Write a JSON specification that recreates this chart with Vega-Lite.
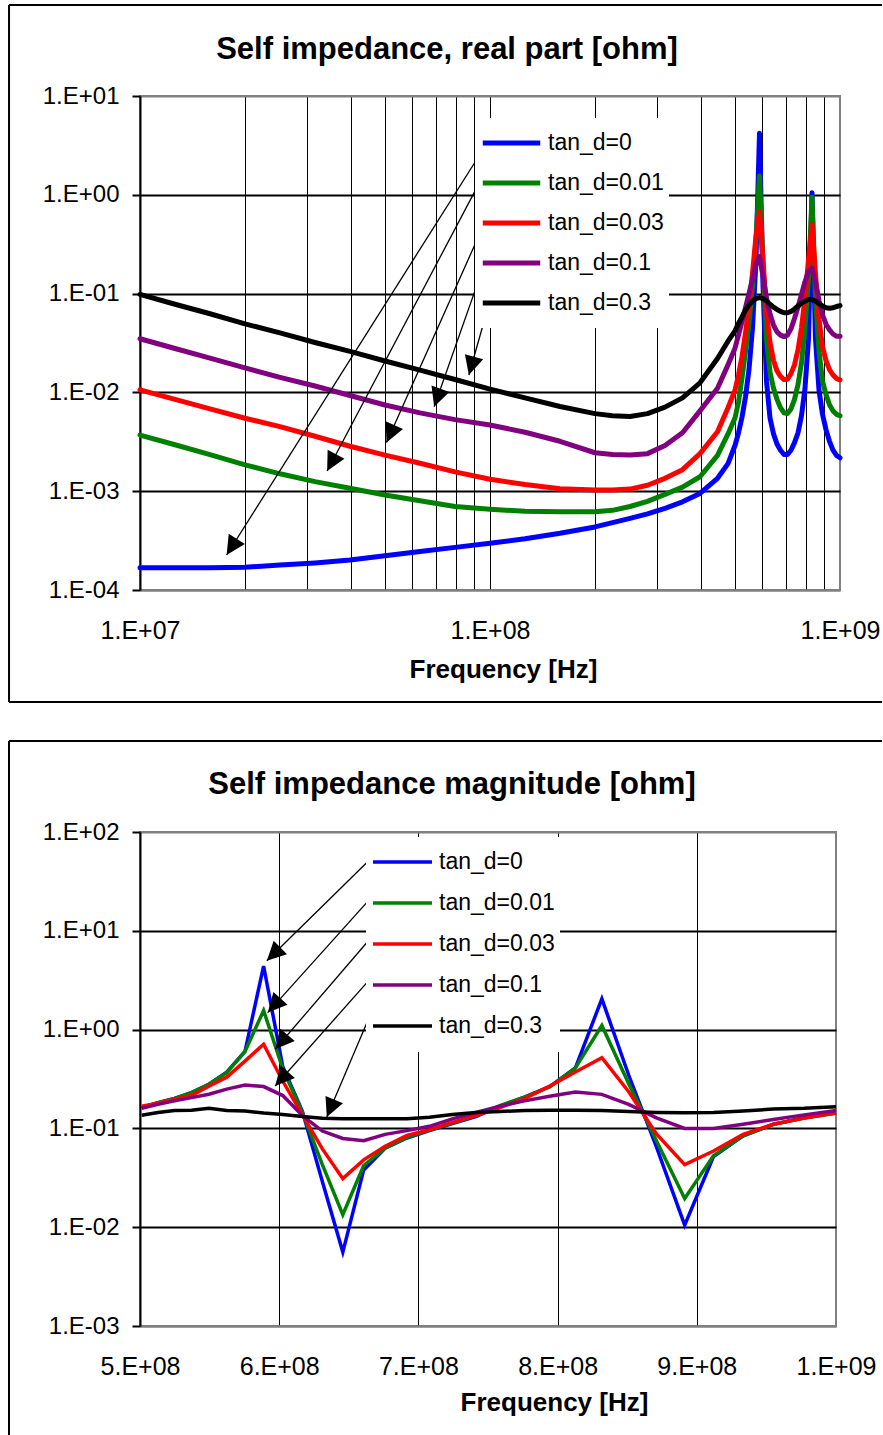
{
"$schema": "https://vega.github.io/schema/vega-lite/v6.json",
"background": "white",
"padding": {"left": 6, "top": 3, "right": 0, "bottom": 0},
"config": {
  "font": "Liberation Sans",
  "view": {"stroke": "#808080", "strokeWidth": 2},
  "axis": {"labelColor": "black", "titleColor": "black", "labelFont": "Liberation Sans", "titleFont": "Liberation Sans"}
},
"resolve": {"scale": {"color": "independent"}, "legend": {"color": "independent"}},
"datasets": {
"top": [
{"s":"tan_d=0","f":1e7,"v":1.68e-4},{"s":"tan_d=0","f":1.259e7,"v":1.68e-4},{"s":"tan_d=0","f":1.585e7,"v":1.68e-4},{"s":"tan_d=0","f":1.995e7,"v":1.70e-4},{"s":"tan_d=0","f":2.512e7,"v":1.79e-4},{"s":"tan_d=0","f":3.162e7,"v":1.88e-4},{"s":"tan_d=0","f":3.981e7,"v":2.01e-4},{"s":"tan_d=0","f":5.012e7,"v":2.22e-4},{"s":"tan_d=0","f":6.31e7,"v":2.45e-4},{"s":"tan_d=0","f":7.943e7,"v":2.70e-4},{"s":"tan_d=0","f":1e8,"v":2.97e-4},{"s":"tan_d=0","f":1.259e8,"v":3.30e-4},{"s":"tan_d=0","f":1.585e8,"v":3.75e-4},{"s":"tan_d=0","f":1.995e8,"v":4.35e-4},{"s":"tan_d=0","f":2.239e8,"v":4.8e-4},{"s":"tan_d=0","f":2.512e8,"v":5.3e-4},{"s":"tan_d=0","f":2.818e8,"v":5.9e-4},{"s":"tan_d=0","f":3.162e8,"v":6.7e-4},{"s":"tan_d=0","f":3.548e8,"v":7.8e-4},{"s":"tan_d=0","f":3.981e8,"v":9.5e-4},{"s":"tan_d=0","f":4.467e8,"v":1.35e-3},{"s":"tan_d=0","f":4.786e8,"v":1.9e-3},
{"s":"tan_d=0","f":5.012e8,"v":2.9e-3},{"s":"tan_d=0","f":5.129e8,"v":3.9e-3},{"s":"tan_d=0","f":5.248e8,"v":5.6e-3},{"s":"tan_d=0","f":5.370e8,"v":9e-3},{"s":"tan_d=0","f":5.495e8,"v":0.017},{"s":"tan_d=0","f":5.623e8,"v":0.045},{"s":"tan_d=0","f":5.754e8,"v":0.22},{"s":"tan_d=0","f":5.888e8,"v":4.2},{"s":"tan_d=0","f":6.026e8,"v":0.12},{"s":"tan_d=0","f":6.166e8,"v":0.013},{"s":"tan_d=0","f":6.310e8,"v":5.5e-3},{"s":"tan_d=0","f":6.457e8,"v":3.8e-3},{"s":"tan_d=0","f":6.607e8,"v":3.0e-3},{"s":"tan_d=0","f":6.761e8,"v":2.6e-3},{"s":"tan_d=0","f":6.918e8,"v":2.35e-3},{"s":"tan_d=0","f":7.079e8,"v":2.35e-3},{"s":"tan_d=0","f":7.244e8,"v":2.6e-3},{"s":"tan_d=0","f":7.413e8,"v":3.1e-3},{"s":"tan_d=0","f":7.586e8,"v":3.9e-3},{"s":"tan_d=0","f":7.762e8,"v":5.8e-3},{"s":"tan_d=0","f":7.943e8,"v":0.011},{"s":"tan_d=0","f":8.128e8,"v":0.035},{"s":"tan_d=0","f":8.318e8,"v":1.05},{"s":"tan_d=0","f":8.511e8,"v":0.035},{"s":"tan_d=0","f":8.710e8,"v":0.0105},{"s":"tan_d=0","f":8.913e8,"v":6.0e-3},{"s":"tan_d=0","f":9.120e8,"v":4.2e-3},{"s":"tan_d=0","f":9.333e8,"v":3.2e-3},{"s":"tan_d=0","f":9.550e8,"v":2.6e-3},{"s":"tan_d=0","f":9.772e8,"v":2.3e-3},{"s":"tan_d=0","f":1e9,"v":2.18e-3},
{"s":"tan_d=0.01","f":1e7,"v":3.7e-3},{"s":"tan_d=0.01","f":1.259e7,"v":2.95e-3},{"s":"tan_d=0.01","f":1.585e7,"v":2.35e-3},{"s":"tan_d=0.01","f":1.995e7,"v":1.85e-3},{"s":"tan_d=0.01","f":2.512e7,"v":1.5e-3},{"s":"tan_d=0.01","f":3.162e7,"v":1.25e-3},{"s":"tan_d=0.01","f":3.981e7,"v":1.07e-3},{"s":"tan_d=0.01","f":5.012e7,"v":9.15e-4},{"s":"tan_d=0.01","f":6.31e7,"v":8.0e-4},{"s":"tan_d=0.01","f":7.943e7,"v":7.0e-4},{"s":"tan_d=0.01","f":1e8,"v":6.56e-4},{"s":"tan_d=0.01","f":1.259e8,"v":6.25e-4},{"s":"tan_d=0.01","f":1.585e8,"v":6.2e-4},{"s":"tan_d=0.01","f":1.995e8,"v":6.2e-4},{"s":"tan_d=0.01","f":2.239e8,"v":6.4e-4},{"s":"tan_d=0.01","f":2.512e8,"v":7.0e-4},{"s":"tan_d=0.01","f":2.818e8,"v":7.9e-4},{"s":"tan_d=0.01","f":3.162e8,"v":9.3e-4},{"s":"tan_d=0.01","f":3.548e8,"v":1.1e-3},{"s":"tan_d=0.01","f":3.981e8,"v":1.4e-3},{"s":"tan_d=0.01","f":4.467e8,"v":2.3e-3},{"s":"tan_d=0.01","f":4.786e8,"v":3.8e-3},
{"s":"tan_d=0.01","f":5.012e8,"v":5.5e-3},{"s":"tan_d=0.01","f":5.129e8,"v":8e-3},{"s":"tan_d=0.01","f":5.248e8,"v":0.014},{"s":"tan_d=0.01","f":5.370e8,"v":0.026},{"s":"tan_d=0.01","f":5.495e8,"v":0.05},{"s":"tan_d=0.01","f":5.623e8,"v":0.12},{"s":"tan_d=0.01","f":5.754e8,"v":0.35},{"s":"tan_d=0.01","f":5.888e8,"v":1.55},{"s":"tan_d=0.01","f":6.026e8,"v":0.2},{"s":"tan_d=0.01","f":6.166e8,"v":0.035},{"s":"tan_d=0.01","f":6.310e8,"v":0.016},{"s":"tan_d=0.01","f":6.457e8,"v":0.011},{"s":"tan_d=0.01","f":6.607e8,"v":8.5e-3},{"s":"tan_d=0.01","f":6.761e8,"v":7e-3},{"s":"tan_d=0.01","f":6.918e8,"v":6.2e-3},{"s":"tan_d=0.01","f":7.079e8,"v":6.1e-3},{"s":"tan_d=0.01","f":7.244e8,"v":6.8e-3},{"s":"tan_d=0.01","f":7.413e8,"v":8.5e-3},{"s":"tan_d=0.01","f":7.586e8,"v":0.012},{"s":"tan_d=0.01","f":7.762e8,"v":0.02},{"s":"tan_d=0.01","f":7.943e8,"v":0.045},{"s":"tan_d=0.01","f":8.128e8,"v":0.14},{"s":"tan_d=0.01","f":8.318e8,"v":0.95},{"s":"tan_d=0.01","f":8.511e8,"v":0.09},{"s":"tan_d=0.01","f":8.710e8,"v":0.026},{"s":"tan_d=0.01","f":8.913e8,"v":0.013},{"s":"tan_d=0.01","f":9.120e8,"v":9.5e-3},{"s":"tan_d=0.01","f":9.333e8,"v":7.5e-3},{"s":"tan_d=0.01","f":9.550e8,"v":6.5e-3},{"s":"tan_d=0.01","f":9.772e8,"v":6e-3},{"s":"tan_d=0.01","f":1e9,"v":5.8e-3},
{"s":"tan_d=0.03","f":1e7,"v":0.0106},{"s":"tan_d=0.03","f":1.259e7,"v":8.5e-3},{"s":"tan_d=0.03","f":1.585e7,"v":6.8e-3},{"s":"tan_d=0.03","f":1.995e7,"v":5.47e-3},{"s":"tan_d=0.03","f":2.512e7,"v":4.5e-3},{"s":"tan_d=0.03","f":3.162e7,"v":3.6e-3},{"s":"tan_d=0.03","f":3.981e7,"v":2.85e-3},{"s":"tan_d=0.03","f":5.012e7,"v":2.32e-3},{"s":"tan_d=0.03","f":6.31e7,"v":1.92e-3},{"s":"tan_d=0.03","f":7.943e7,"v":1.57e-3},{"s":"tan_d=0.03","f":1e8,"v":1.32e-3},{"s":"tan_d=0.03","f":1.259e8,"v":1.17e-3},{"s":"tan_d=0.03","f":1.585e8,"v":1.06e-3},{"s":"tan_d=0.03","f":1.995e8,"v":1.03e-3},{"s":"tan_d=0.03","f":2.239e8,"v":1.03e-3},{"s":"tan_d=0.03","f":2.512e8,"v":1.05e-3},{"s":"tan_d=0.03","f":2.818e8,"v":1.15e-3},{"s":"tan_d=0.03","f":3.162e8,"v":1.35e-3},{"s":"tan_d=0.03","f":3.548e8,"v":1.65e-3},{"s":"tan_d=0.03","f":3.981e8,"v":2.4e-3},{"s":"tan_d=0.03","f":4.467e8,"v":4.0e-3},{"s":"tan_d=0.03","f":4.786e8,"v":7e-3},
{"s":"tan_d=0.03","f":5.012e8,"v":0.0105},{"s":"tan_d=0.03","f":5.129e8,"v":0.015},{"s":"tan_d=0.03","f":5.248e8,"v":0.023},{"s":"tan_d=0.03","f":5.370e8,"v":0.04},{"s":"tan_d=0.03","f":5.495e8,"v":0.075},{"s":"tan_d=0.03","f":5.623e8,"v":0.16},{"s":"tan_d=0.03","f":5.754e8,"v":0.38},{"s":"tan_d=0.03","f":5.888e8,"v":0.67},{"s":"tan_d=0.03","f":6.026e8,"v":0.22},{"s":"tan_d=0.03","f":6.166e8,"v":0.065},{"s":"tan_d=0.03","f":6.310e8,"v":0.032},{"s":"tan_d=0.03","f":6.457e8,"v":0.021},{"s":"tan_d=0.03","f":6.607e8,"v":0.0165},{"s":"tan_d=0.03","f":6.761e8,"v":0.0145},{"s":"tan_d=0.03","f":6.918e8,"v":0.0135},{"s":"tan_d=0.03","f":7.079e8,"v":0.0136},{"s":"tan_d=0.03","f":7.244e8,"v":0.0155},{"s":"tan_d=0.03","f":7.413e8,"v":0.019},{"s":"tan_d=0.03","f":7.586e8,"v":0.027},{"s":"tan_d=0.03","f":7.762e8,"v":0.045},{"s":"tan_d=0.03","f":7.943e8,"v":0.09},{"s":"tan_d=0.03","f":8.128e8,"v":0.22},{"s":"tan_d=0.03","f":8.318e8,"v":0.5},{"s":"tan_d=0.03","f":8.511e8,"v":0.16},{"s":"tan_d=0.03","f":8.710e8,"v":0.055},{"s":"tan_d=0.03","f":8.913e8,"v":0.029},{"s":"tan_d=0.03","f":9.120e8,"v":0.021},{"s":"tan_d=0.03","f":9.333e8,"v":0.017},{"s":"tan_d=0.03","f":9.550e8,"v":0.015},{"s":"tan_d=0.03","f":9.772e8,"v":0.0138},{"s":"tan_d=0.03","f":1e9,"v":0.0134},
{"s":"tan_d=0.1","f":1e7,"v":0.0349},{"s":"tan_d=0.1","f":1.259e7,"v":0.0278},{"s":"tan_d=0.1","f":1.585e7,"v":0.0222},{"s":"tan_d=0.1","f":1.995e7,"v":0.0177},{"s":"tan_d=0.1","f":2.512e7,"v":0.0142},{"s":"tan_d=0.1","f":3.162e7,"v":0.0116},{"s":"tan_d=0.1","f":3.981e7,"v":9.3e-3},{"s":"tan_d=0.1","f":5.012e7,"v":7.45e-3},{"s":"tan_d=0.1","f":6.31e7,"v":6.2e-3},{"s":"tan_d=0.1","f":7.943e7,"v":5.3e-3},{"s":"tan_d=0.1","f":1e8,"v":4.68e-3},{"s":"tan_d=0.1","f":1.259e8,"v":3.95e-3},{"s":"tan_d=0.1","f":1.585e8,"v":3.2e-3},{"s":"tan_d=0.1","f":1.995e8,"v":2.45e-3},{"s":"tan_d=0.1","f":2.239e8,"v":2.35e-3},{"s":"tan_d=0.1","f":2.512e8,"v":2.32e-3},{"s":"tan_d=0.1","f":2.818e8,"v":2.4e-3},{"s":"tan_d=0.1","f":3.162e8,"v":2.9e-3},{"s":"tan_d=0.1","f":3.548e8,"v":3.9e-3},{"s":"tan_d=0.1","f":3.981e8,"v":6.5e-3},{"s":"tan_d=0.1","f":4.467e8,"v":0.011},{"s":"tan_d=0.1","f":4.786e8,"v":0.019},
{"s":"tan_d=0.1","f":5.012e8,"v":0.028},{"s":"tan_d=0.1","f":5.129e8,"v":0.038},{"s":"tan_d=0.1","f":5.248e8,"v":0.052},{"s":"tan_d=0.1","f":5.370e8,"v":0.072},{"s":"tan_d=0.1","f":5.495e8,"v":0.1},{"s":"tan_d=0.1","f":5.623e8,"v":0.14},{"s":"tan_d=0.1","f":5.754e8,"v":0.2},{"s":"tan_d=0.1","f":5.888e8,"v":0.237},{"s":"tan_d=0.1","f":6.026e8,"v":0.15},{"s":"tan_d=0.1","f":6.166e8,"v":0.09},{"s":"tan_d=0.1","f":6.310e8,"v":0.062},{"s":"tan_d=0.1","f":6.457e8,"v":0.048},{"s":"tan_d=0.1","f":6.607e8,"v":0.041},{"s":"tan_d=0.1","f":6.761e8,"v":0.038},{"s":"tan_d=0.1","f":6.918e8,"v":0.0367},{"s":"tan_d=0.1","f":7.079e8,"v":0.038},{"s":"tan_d=0.1","f":7.244e8,"v":0.044},{"s":"tan_d=0.1","f":7.413e8,"v":0.056},{"s":"tan_d=0.1","f":7.586e8,"v":0.073},{"s":"tan_d=0.1","f":7.762e8,"v":0.098},{"s":"tan_d=0.1","f":7.943e8,"v":0.132},{"s":"tan_d=0.1","f":8.128e8,"v":0.168},{"s":"tan_d=0.1","f":8.318e8,"v":0.18},{"s":"tan_d=0.1","f":8.511e8,"v":0.13},{"s":"tan_d=0.1","f":8.710e8,"v":0.085},{"s":"tan_d=0.1","f":8.913e8,"v":0.061},{"s":"tan_d=0.1","f":9.120e8,"v":0.049},{"s":"tan_d=0.1","f":9.333e8,"v":0.043},{"s":"tan_d=0.1","f":9.550e8,"v":0.039},{"s":"tan_d=0.1","f":9.772e8,"v":0.037},{"s":"tan_d=0.1","f":1e9,"v":0.037},
{"s":"tan_d=0.3","f":1e7,"v":0.098},{"s":"tan_d=0.3","f":1.259e7,"v":0.078},{"s":"tan_d=0.3","f":1.585e7,"v":0.0625},{"s":"tan_d=0.3","f":1.995e7,"v":0.0494},{"s":"tan_d=0.3","f":2.512e7,"v":0.040},{"s":"tan_d=0.3","f":3.162e7,"v":0.032},{"s":"tan_d=0.3","f":3.981e7,"v":0.026},{"s":"tan_d=0.3","f":5.012e7,"v":0.0208},{"s":"tan_d=0.3","f":6.31e7,"v":0.0168},{"s":"tan_d=0.3","f":7.943e7,"v":0.0135},{"s":"tan_d=0.3","f":1e8,"v":0.0108},{"s":"tan_d=0.3","f":1.259e8,"v":0.0088},{"s":"tan_d=0.3","f":1.585e8,"v":0.0072},{"s":"tan_d=0.3","f":1.995e8,"v":0.0061},{"s":"tan_d=0.3","f":2.239e8,"v":0.0058},{"s":"tan_d=0.3","f":2.512e8,"v":0.0057},{"s":"tan_d=0.3","f":2.818e8,"v":0.0061},{"s":"tan_d=0.3","f":3.162e8,"v":0.0071},{"s":"tan_d=0.3","f":3.548e8,"v":0.0088},{"s":"tan_d=0.3","f":3.981e8,"v":0.0125},{"s":"tan_d=0.3","f":4.467e8,"v":0.022},{"s":"tan_d=0.3","f":4.786e8,"v":0.033},
{"s":"tan_d=0.3","f":5.012e8,"v":0.042},{"s":"tan_d=0.3","f":5.129e8,"v":0.05},{"s":"tan_d=0.3","f":5.248e8,"v":0.058},{"s":"tan_d=0.3","f":5.370e8,"v":0.068},{"s":"tan_d=0.3","f":5.495e8,"v":0.077},{"s":"tan_d=0.3","f":5.623e8,"v":0.084},{"s":"tan_d=0.3","f":5.754e8,"v":0.089},{"s":"tan_d=0.3","f":5.888e8,"v":0.091},{"s":"tan_d=0.3","f":6.026e8,"v":0.089},{"s":"tan_d=0.3","f":6.166e8,"v":0.084},{"s":"tan_d=0.3","f":6.310e8,"v":0.078},{"s":"tan_d=0.3","f":6.457e8,"v":0.073},{"s":"tan_d=0.3","f":6.607e8,"v":0.069},{"s":"tan_d=0.3","f":6.761e8,"v":0.066},{"s":"tan_d=0.3","f":6.918e8,"v":0.064},{"s":"tan_d=0.3","f":7.079e8,"v":0.064},{"s":"tan_d=0.3","f":7.244e8,"v":0.066},{"s":"tan_d=0.3","f":7.413e8,"v":0.07},{"s":"tan_d=0.3","f":7.586e8,"v":0.075},{"s":"tan_d=0.3","f":7.762e8,"v":0.08},{"s":"tan_d=0.3","f":7.943e8,"v":0.084},{"s":"tan_d=0.3","f":8.128e8,"v":0.087},{"s":"tan_d=0.3","f":8.318e8,"v":0.087},{"s":"tan_d=0.3","f":8.511e8,"v":0.084},{"s":"tan_d=0.3","f":8.710e8,"v":0.079},{"s":"tan_d=0.3","f":8.913e8,"v":0.075},{"s":"tan_d=0.3","f":9.120e8,"v":0.072},{"s":"tan_d=0.3","f":9.333e8,"v":0.071},{"s":"tan_d=0.3","f":9.550e8,"v":0.072},{"s":"tan_d=0.3","f":9.772e8,"v":0.074},{"s":"tan_d=0.3","f":1e9,"v":0.0755}
],
"bot": [
{"s":"tan_d=0","f":5.012e8,"v":0.162},{"s":"tan_d=0","f":5.129e8,"v":0.182},{"s":"tan_d=0","f":5.248e8,"v":0.201},{"s":"tan_d=0","f":5.370e8,"v":0.23},{"s":"tan_d=0","f":5.495e8,"v":0.28},{"s":"tan_d=0","f":5.623e8,"v":0.37},{"s":"tan_d=0","f":5.754e8,"v":0.6},{"s":"tan_d=0","f":5.888e8,"v":4.4},{"s":"tan_d=0","f":6.026e8,"v":0.42},{"s":"tan_d=0","f":6.166e8,"v":0.15},{"s":"tan_d=0","f":6.310e8,"v":0.029},{"s":"tan_d=0","f":6.457e8,"v":0.0056},{"s":"tan_d=0","f":6.607e8,"v":0.038},{"s":"tan_d=0","f":6.761e8,"v":0.063},{"s":"tan_d=0","f":6.918e8,"v":0.08},{"s":"tan_d=0","f":7.079e8,"v":0.095},{"s":"tan_d=0","f":7.244e8,"v":0.112},{"s":"tan_d=0","f":7.413e8,"v":0.132},{"s":"tan_d=0","f":7.586e8,"v":0.168},{"s":"tan_d=0","f":7.762e8,"v":0.207},{"s":"tan_d=0","f":7.943e8,"v":0.265},{"s":"tan_d=0","f":8.128e8,"v":0.41},{"s":"tan_d=0","f":8.318e8,"v":2.05},{"s":"tan_d=0","f":8.511e8,"v":0.345},{"s":"tan_d=0","f":8.710e8,"v":0.065},{"s":"tan_d=0","f":8.913e8,"v":0.0105},{"s":"tan_d=0","f":9.120e8,"v":0.052},{"s":"tan_d=0","f":9.333e8,"v":0.084},{"s":"tan_d=0","f":9.550e8,"v":0.11},{"s":"tan_d=0","f":9.772e8,"v":0.128},{"s":"tan_d=0","f":1e9,"v":0.144},
{"s":"tan_d=0.01","f":5.012e8,"v":0.162},{"s":"tan_d=0.01","f":5.129e8,"v":0.182},{"s":"tan_d=0.01","f":5.248e8,"v":0.201},{"s":"tan_d=0.01","f":5.370e8,"v":0.23},{"s":"tan_d=0.01","f":5.495e8,"v":0.28},{"s":"tan_d=0.01","f":5.623e8,"v":0.366},{"s":"tan_d=0.01","f":5.754e8,"v":0.6},{"s":"tan_d=0.01","f":5.888e8,"v":1.56},{"s":"tan_d=0.01","f":6.026e8,"v":0.4},{"s":"tan_d=0.01","f":6.166e8,"v":0.145},{"s":"tan_d=0.01","f":6.310e8,"v":0.043},{"s":"tan_d=0.01","f":6.457e8,"v":0.0134},{"s":"tan_d=0.01","f":6.607e8,"v":0.042},{"s":"tan_d=0.01","f":6.761e8,"v":0.063},{"s":"tan_d=0.01","f":6.918e8,"v":0.081},{"s":"tan_d=0.01","f":7.079e8,"v":0.096},{"s":"tan_d=0.01","f":7.244e8,"v":0.113},{"s":"tan_d=0.01","f":7.413e8,"v":0.134},{"s":"tan_d=0.01","f":7.586e8,"v":0.17},{"s":"tan_d=0.01","f":7.762e8,"v":0.207},{"s":"tan_d=0.01","f":7.943e8,"v":0.262},{"s":"tan_d=0.01","f":8.128e8,"v":0.41},{"s":"tan_d=0.01","f":8.318e8,"v":1.1},{"s":"tan_d=0.01","f":8.511e8,"v":0.283},{"s":"tan_d=0.01","f":8.710e8,"v":0.075},{"s":"tan_d=0.01","f":8.913e8,"v":0.0195},{"s":"tan_d=0.01","f":9.120e8,"v":0.053},{"s":"tan_d=0.01","f":9.333e8,"v":0.084},{"s":"tan_d=0.01","f":9.550e8,"v":0.11},{"s":"tan_d=0.01","f":9.772e8,"v":0.127},{"s":"tan_d=0.01","f":1e9,"v":0.142},
{"s":"tan_d=0.03","f":5.012e8,"v":0.168},{"s":"tan_d=0.03","f":5.129e8,"v":0.18},{"s":"tan_d=0.03","f":5.248e8,"v":0.198},{"s":"tan_d=0.03","f":5.370e8,"v":0.215},{"s":"tan_d=0.03","f":5.495e8,"v":0.268},{"s":"tan_d=0.03","f":5.623e8,"v":0.33},{"s":"tan_d=0.03","f":5.754e8,"v":0.48},{"s":"tan_d=0.03","f":5.888e8,"v":0.71},{"s":"tan_d=0.03","f":6.026e8,"v":0.30},{"s":"tan_d=0.03","f":6.166e8,"v":0.138},{"s":"tan_d=0.03","f":6.310e8,"v":0.062},{"s":"tan_d=0.03","f":6.457e8,"v":0.031},{"s":"tan_d=0.03","f":6.607e8,"v":0.048},{"s":"tan_d=0.03","f":6.761e8,"v":0.066},{"s":"tan_d=0.03","f":6.918e8,"v":0.085},{"s":"tan_d=0.03","f":7.079e8,"v":0.097},{"s":"tan_d=0.03","f":7.244e8,"v":0.115},{"s":"tan_d=0.03","f":7.413e8,"v":0.135},{"s":"tan_d=0.03","f":7.586e8,"v":0.162},{"s":"tan_d=0.03","f":7.762e8,"v":0.2},{"s":"tan_d=0.03","f":7.943e8,"v":0.268},{"s":"tan_d=0.03","f":8.128e8,"v":0.372},{"s":"tan_d=0.03","f":8.318e8,"v":0.52},{"s":"tan_d=0.03","f":8.511e8,"v":0.235},{"s":"tan_d=0.03","f":8.710e8,"v":0.088},{"s":"tan_d=0.03","f":8.913e8,"v":0.043},{"s":"tan_d=0.03","f":9.120e8,"v":0.059},{"s":"tan_d=0.03","f":9.333e8,"v":0.087},{"s":"tan_d=0.03","f":9.550e8,"v":0.11},{"s":"tan_d=0.03","f":9.772e8,"v":0.127},{"s":"tan_d=0.03","f":1e9,"v":0.144},
{"s":"tan_d=0.1","f":5.012e8,"v":0.16},{"s":"tan_d=0.1","f":5.129e8,"v":0.175},{"s":"tan_d=0.1","f":5.248e8,"v":0.19},{"s":"tan_d=0.1","f":5.370e8,"v":0.205},{"s":"tan_d=0.1","f":5.495e8,"v":0.222},{"s":"tan_d=0.1","f":5.623e8,"v":0.25},{"s":"tan_d=0.1","f":5.754e8,"v":0.275},{"s":"tan_d=0.1","f":5.888e8,"v":0.265},{"s":"tan_d=0.1","f":6.026e8,"v":0.215},{"s":"tan_d=0.1","f":6.166e8,"v":0.135},{"s":"tan_d=0.1","f":6.310e8,"v":0.094},{"s":"tan_d=0.1","f":6.457e8,"v":0.079},{"s":"tan_d=0.1","f":6.607e8,"v":0.075},{"s":"tan_d=0.1","f":6.761e8,"v":0.087},{"s":"tan_d=0.1","f":6.918e8,"v":0.095},{"s":"tan_d=0.1","f":7.079e8,"v":0.105},{"s":"tan_d=0.1","f":7.244e8,"v":0.125},{"s":"tan_d=0.1","f":7.413e8,"v":0.145},{"s":"tan_d=0.1","f":7.586e8,"v":0.168},{"s":"tan_d=0.1","f":7.762e8,"v":0.19},{"s":"tan_d=0.1","f":7.943e8,"v":0.212},{"s":"tan_d=0.1","f":8.128e8,"v":0.233},{"s":"tan_d=0.1","f":8.318e8,"v":0.221},{"s":"tan_d=0.1","f":8.511e8,"v":0.175},{"s":"tan_d=0.1","f":8.710e8,"v":0.128},{"s":"tan_d=0.1","f":8.913e8,"v":0.1},{"s":"tan_d=0.1","f":9.120e8,"v":0.1},{"s":"tan_d=0.1","f":9.333e8,"v":0.11},{"s":"tan_d=0.1","f":9.550e8,"v":0.123},{"s":"tan_d=0.1","f":9.772e8,"v":0.137},{"s":"tan_d=0.1","f":1e9,"v":0.152},
{"s":"tan_d=0.3","f":5.012e8,"v":0.136},{"s":"tan_d=0.3","f":5.129e8,"v":0.145},{"s":"tan_d=0.3","f":5.248e8,"v":0.152},{"s":"tan_d=0.3","f":5.370e8,"v":0.153},{"s":"tan_d=0.3","f":5.495e8,"v":0.16},{"s":"tan_d=0.3","f":5.623e8,"v":0.152},{"s":"tan_d=0.3","f":5.754e8,"v":0.15},{"s":"tan_d=0.3","f":5.888e8,"v":0.143},{"s":"tan_d=0.3","f":6.026e8,"v":0.138},{"s":"tan_d=0.3","f":6.166e8,"v":0.132},{"s":"tan_d=0.3","f":6.310e8,"v":0.127},{"s":"tan_d=0.3","f":6.457e8,"v":0.125},{"s":"tan_d=0.3","f":6.607e8,"v":0.125},{"s":"tan_d=0.3","f":6.761e8,"v":0.125},{"s":"tan_d=0.3","f":6.918e8,"v":0.125},{"s":"tan_d=0.3","f":7.079e8,"v":0.13},{"s":"tan_d=0.3","f":7.244e8,"v":0.138},{"s":"tan_d=0.3","f":7.413e8,"v":0.145},{"s":"tan_d=0.3","f":7.586e8,"v":0.148},{"s":"tan_d=0.3","f":7.762e8,"v":0.152},{"s":"tan_d=0.3","f":7.943e8,"v":0.153},{"s":"tan_d=0.3","f":8.128e8,"v":0.153},{"s":"tan_d=0.3","f":8.318e8,"v":0.152},{"s":"tan_d=0.3","f":8.511e8,"v":0.148},{"s":"tan_d=0.3","f":8.710e8,"v":0.145},{"s":"tan_d=0.3","f":8.913e8,"v":0.144},{"s":"tan_d=0.3","f":9.120e8,"v":0.145},{"s":"tan_d=0.3","f":9.333e8,"v":0.15},{"s":"tan_d=0.3","f":9.550e8,"v":0.157},{"s":"tan_d=0.3","f":9.772e8,"v":0.16},{"s":"tan_d=0.3","f":1e9,"v":0.166}
],
"topArrows": [
{"f":9.772e7,"v":3.267,"f2":1.768e7,"v2":2.261e-4},
{"f":9.305e7,"v":1.305,"f2":3.426e7,"v2":1.601e-3},
{"f":9.646e7,"v":0.5183,"f2":5.063e7,"v2":3.111e-3},
{"f":9.646e7,"v":0.2012,"f2":6.925e7,"v2":7.166e-3},
{"f":9.902e7,"v":0.07542,"f2":8.702e7,"v2":0.0150}
],
"botArrows": [
{"f":6.630e8,"v":49.2,"f2":5.911e8,"v2":4.97},
{"f":6.630e8,"v":19.4,"f2":5.918e8,"v2":1.486},
{"f":6.630e8,"v":7.61,"f2":5.971e8,"v2":0.632},
{"f":6.630e8,"v":2.99,"f2":5.971e8,"v2":0.2685},
{"f":6.630e8,"v":1.176,"f2":6.342e8,"v2":0.1301}
]
},
"concat": [
{
  "width": 700, "height": 494,
  "title": {"text": "Self impedance, real part [ohm]", "font": "Liberation Sans", "fontSize": 31, "fontWeight": "bold", "color": "black", "anchor": "middle", "frame": "bounds", "baseline": "alphabetic", "offset": -56, "dy": 30, "dx": 1.5},
  "layer": [
    {
      "data": {"name": "top"},
      "mark": {"type": "line", "strokeWidth": 5, "strokeJoin": "round", "strokeCap": "round"},
      "encoding": {
        "x": {"field": "f", "type": "quantitative",
          "scale": {"type": "log", "domain": [1e7, 1e9], "nice": false, "zero": false},
          "axis": {"values": [1e7,2e7,3e7,4e7,5e7,6e7,7e7,8e7,9e7,1e8,2e8,3e8,4e8,5e8,6e8,7e8,8e8,9e8,1e9],
            "labelExpr": "abs(log(datum.value)/LN10 - round(log(datum.value)/LN10)) < 0.01 ? '1.E+0' + round(log(datum.value)/LN10) : ''",
            "grid": true, "gridColor": {"condition": {"test": "datum.value > 9.5e8", "value": "#808080"}, "value": "black"}, "gridWidth": 1,
            "ticks": false, "domainColor": "#808080", "domainWidth": 2,
            "labelFontSize": 25, "labelPadding": 28, "labelFlush": false, "labelOverlap": false,
            "title": "Frequency [Hz]", "titleFontSize": 26, "titleFontWeight": "bold", "titlePadding": 13, "titleX": 363}},
        "y": {"field": "v", "type": "quantitative",
          "scale": {"type": "log", "domain": [1e-4, 10], "nice": false, "zero": false},
          "axis": {"values": [1e-4,1e-3,1e-2,1e-1,1,10],
            "labelExpr": "'1.E' + (round(log(datum.value)/LN10) < 0 ? '-0' : '+0') + abs(round(log(datum.value)/LN10))",
            "grid": true, "gridColor": {"condition": {"test": "datum.value > 5 || datum.value < 2e-4", "value": "#808080"}, "value": "black"}, "gridWidth": 2,
            "ticks": true, "tickColor": "black", "tickWidth": 2, "tickSize": 8,
            "domainColor": "black", "domainWidth": 2,
            "labelFontSize": 24, "labelPadding": 13, "title": null}},
        "color": {"field": "s", "type": "nominal",
          "scale": {"domain": ["tan_d=0","tan_d=0.01","tan_d=0.03","tan_d=0.1","tan_d=0.3"], "range": ["#0000FF","#008000","#FF0000","#800080","#000000"]},
          "legend": {"orient": "none", "legendX": 335, "legendY": 22, "title": null, "symbolType": "stroke", "symbolSize": 3300, "symbolStrokeWidth": 5, "symbolOpacity": 1,
            "labelFontSize": 23, "labelFont": "Liberation Sans", "labelColor": "black", "labelOffset": 5, "labelLimit": 300,
            "fillColor": "white", "padding": 5, "rowPadding": 0, "clipHeight": 40}}
      }
    },
    {
      "data": {"name": "topArrows"},
      "mark": {"type": "rule", "color": "black", "strokeWidth": 1.3},
      "encoding": {"x": {"field": "f", "type": "quantitative"}, "y": {"field": "v", "type": "quantitative"}, "x2": {"field": "f2"}, "y2": {"field": "v2"}}
    },
    {
      "data": {"name": "topArrows"},
      "transform": [{"calculate": "atan2((log(datum.f2)-log(datum.f))*350/LN10, (log(datum.v2)-log(datum.v))*98.8/LN10)*180/PI", "as": "ang"}],
      "mark": {"type": "point", "shape": "M0,0L-0.5,1L0.5,1Z", "filled": true, "color": "black", "opacity": 1, "size": 1444, "strokeWidth": 0},
      "encoding": {"x": {"field": "f2", "type": "quantitative"}, "y": {"field": "v2", "type": "quantitative"}, "angle": {"field": "ang", "type": "quantitative", "scale": null}}
    },
    {
      "data": {"values": [{}]},
      "mark": {"type": "rule", "color": "black", "strokeWidth": 2},
      "encoding": {"x": {"datum": 4.2247e6, "type": "quantitative"}, "x2": {"datum": 1.3183e9}, "y": {"datum": 83.37, "type": "quantitative"}}
    },
    {
      "data": {"values": [{}]},
      "mark": {"type": "rule", "color": "black", "strokeWidth": 2},
      "encoding": {"x": {"datum": 4.2247e6, "type": "quantitative"}, "x2": {"datum": 1.3183e9}, "y": {"datum": 7.352e-6, "type": "quantitative"}}
    },
    {
      "data": {"values": [{}]},
      "mark": {"type": "rule", "color": "black", "strokeWidth": 2},
      "encoding": {"x": {"datum": 4.2247e6, "type": "quantitative"}, "y": {"datum": 83.37, "type": "quantitative"}, "y2": {"datum": 7.352e-6}}
    }
  ]
},
{
  "width": 696, "height": 494,
  "title": {"text": "Self impedance magnitude [ohm]", "font": "Liberation Sans", "fontSize": 31, "fontWeight": "bold", "color": "black", "anchor": "middle", "frame": "bounds", "baseline": "alphabetic", "offset": -56, "dy": 29, "dx": 6.5},
  "layer": [
    {
      "data": {"name": "bot"},
      "mark": {"type": "line", "strokeWidth": 3.5, "strokeJoin": "miter"},
      "encoding": {
        "x": {"field": "f", "type": "quantitative",
          "scale": {"type": "linear", "domain": [5e8, 1e9], "nice": false, "zero": false},
          "axis": {"values": [5e8,6e8,7e8,8e8,9e8,1e9],
            "labelExpr": "round(datum.value / pow(10, floor(log(datum.value)/LN10 + 1e-6))) + '.E+0' + floor(log(datum.value)/LN10 + 1e-6)",
            "grid": true, "gridColor": {"condition": {"test": "datum.value > 9.9e8", "value": "#808080"}, "value": "black"}, "gridWidth": 1,
            "ticks": false, "domainColor": "#808080", "domainWidth": 2,
            "labelFontSize": 25, "labelPadding": 28, "labelFlush": false, "labelOverlap": false,
            "title": "Frequency [Hz]", "titleFontSize": 26, "titleFontWeight": "bold", "titlePadding": 10, "titleX": 414}},
        "y": {"field": "v", "type": "quantitative",
          "scale": {"type": "log", "domain": [1e-3, 100], "nice": false, "zero": false},
          "axis": {"values": [1e-3,1e-2,1e-1,1,10,100],
            "labelExpr": "'1.E' + (round(log(datum.value)/LN10) < 0 ? '-0' : '+0') + abs(round(log(datum.value)/LN10))",
            "grid": true, "gridColor": {"condition": {"test": "datum.value > 50 || datum.value < 2e-3", "value": "#808080"}, "value": "black"}, "gridWidth": 2,
            "ticks": true, "tickColor": "black", "tickWidth": 2, "tickSize": 8,
            "domainColor": "black", "domainWidth": 2,
            "labelFontSize": 24, "labelPadding": 13, "title": null}},
        "color": {"field": "s", "type": "nominal",
          "scale": {"domain": ["tan_d=0","tan_d=0.01","tan_d=0.03","tan_d=0.1","tan_d=0.3"], "range": ["#0000FF","#008000","#FF0000","#800080","#000000"]},
          "legend": {"orient": "none", "legendX": 226, "legendY": 5, "title": null, "symbolType": "stroke", "symbolSize": 3481, "symbolStrokeWidth": 3.5, "symbolOpacity": 1,
            "labelFontSize": 23, "labelFont": "Liberation Sans", "labelColor": "black", "labelOffset": 5, "labelLimit": 300,
            "fillColor": "white", "padding": 5, "rowPadding": 0, "clipHeight": 40.2}}
      }
    },
    {
      "data": {"name": "botArrows"},
      "mark": {"type": "rule", "color": "black", "strokeWidth": 1.3},
      "encoding": {"x": {"field": "f", "type": "quantitative"}, "y": {"field": "v", "type": "quantitative"}, "x2": {"field": "f2"}, "y2": {"field": "v2"}}
    },
    {
      "data": {"name": "botArrows"},
      "transform": [{"calculate": "atan2((datum.f2-datum.f)*696/5e8, (log(datum.v2)-log(datum.v))*98.8/LN10)*180/PI", "as": "ang"}],
      "mark": {"type": "point", "shape": "M0,0L-0.5,1L0.5,1Z", "filled": true, "color": "black", "opacity": 1, "size": 1444, "strokeWidth": 0},
      "encoding": {"x": {"field": "f2", "type": "quantitative"}, "y": {"field": "v2", "type": "quantitative"}, "angle": {"field": "ang", "type": "quantitative", "scale": null}}
    },
    {
      "data": {"values": [{}]},
      "mark": {"type": "rule", "color": "black", "strokeWidth": 2},
      "encoding": {"x": {"datum": 4.0589e8, "type": "quantitative"}, "x2": {"datum": 1.03305e9}, "y": {"datum": 833.7, "type": "quantitative"}}
    },
    {
      "data": {"values": [{}]},
      "mark": {"type": "rule", "color": "black", "strokeWidth": 2},
      "encoding": {"x": {"datum": 4.0589e8, "type": "quantitative"}, "y": {"datum": 833.7, "type": "quantitative"}, "y2": {"datum": 7.882e-5}}
    }
  ]
}
],
"columns": 1,
"spacing": 35
}
